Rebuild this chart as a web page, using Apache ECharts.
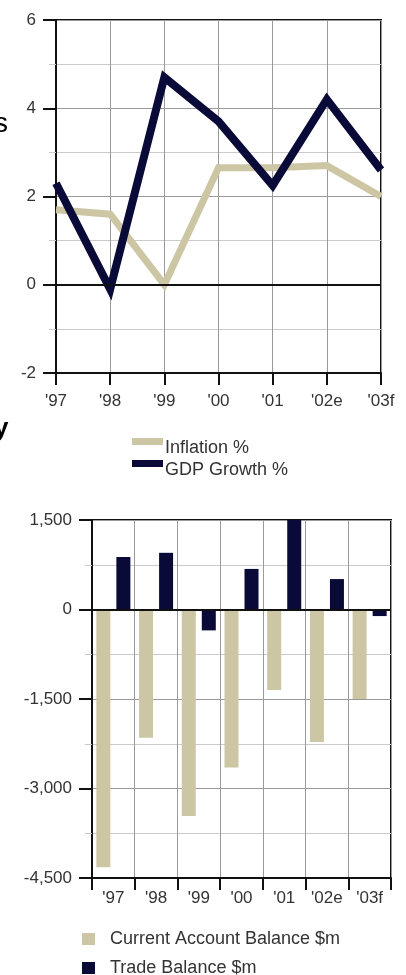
<!DOCTYPE html>
<html>
<head>
<meta charset="utf-8">
<script src="https://cdn.jsdelivr.net/npm/echarts@6/dist/echarts.min.js"></script>
<style>
  html, body { margin: 0; padding: 0; background: #fff; }
  #chart { width: 406px; height: 975px; }
</style>
</head>
<body>
<div id="chart"></div>
<script>
// Years shown on both charts
var years = ["'97", "'98", "'99", "'00", "'01", "'02e", "'03f"];

// Upper chart: annual rates (%)
var inflation = [1.7, 1.6, 0.0, 2.65, 2.65, 2.7, 2.0];
var gdpGrowth = [2.3, -0.1, 4.7, 3.7, 2.25, 4.2, 2.6];
var rateTicks = [-2, 0, 2, 4, 6];

// Lower chart: balances ($m)
var currentAccount = [-4320, -2150, -3460, -2650, -1350, -2220, -1500];
var tradeBalance = [880, 950, -350, 680, 1500, 510, -110];
var balanceTicks = [-4500, -3000, -1500, 0, 1500];

var FONT = '"Liberation Sans", Arial, sans-serif';
var BEIGE = '#cdc6a4';
var NAVY = '#0a0a38';
var GRID_MAJOR = '#9a9a9a';
var GRID_MINOR = '#cacaca';

// Line-legend swatch: a bar sitting in the upper part of the item box
var LINE_SWATCH = 'path://M0,0h31v7h-31z M0,19.9h0.01v0.1h-0.01z';

function withCommas(v) {
  var s = String(Math.abs(v)).replace(/\B(?=(\d{3})+(?!\d))/g, ',');
  return v < 0 ? '-' + s : s;
}

function valueAxis(gridIndex, ticks, formatter) {
  return {
    type: 'value',
    gridIndex: gridIndex,
    min: ticks[0],
    max: ticks[ticks.length - 1],
    interval: ticks[1] - ticks[0],
    axisLine: { show: true, onZero: false, lineStyle: { color: '#111', width: 2 } },
    axisTick: { show: true, length: 13, lineStyle: { color: '#111', width: 2 } },
    minorTick: { show: true, splitNumber: 2, length: 7, lineStyle: { color: GRID_MINOR, width: 1 } },
    minorSplitLine: { show: true, lineStyle: { color: GRID_MINOR, width: 1 } },
    splitLine: { show: true, lineStyle: { color: GRID_MAJOR, width: 1 } },
    axisLabel: {
      margin: 20,
      color: '#333',
      fontFamily: FONT,
      fontSize: 17,
      formatter: formatter
    }
  };
}

function categoryAxis(gridIndex, boundaryGap, labelMargin) {
  return {
    type: 'category',
    gridIndex: gridIndex,
    data: years,
    boundaryGap: boundaryGap,
    axisLine: { show: true, onZero: false, lineStyle: { color: '#111', width: 2 } },
    axisTick: { show: true, length: 12, interval: 0, alignWithLabel: false, lineStyle: { color: '#111', width: 2 } },
    splitLine: { show: true, interval: 0, lineStyle: { color: GRID_MAJOR, width: 1 } },
    axisLabel: { margin: labelMargin, color: '#333', fontFamily: FONT, fontSize: 17, interval: 0 }
  };
}

// Black reference line drawn at zero
function zeroLine() {
  return {
    silent: true,
    symbol: ['none', 'none'],
    label: { show: false },
    lineStyle: { color: '#111', width: 2, type: 'solid' },
    data: [{ yAxis: 0 }]
  };
}

function legendRow(name, left, top, icon, w, h, padding) {
  return {
    orient: 'horizontal',
    left: left,
    top: top,
    padding: 0,
    itemWidth: w,
    itemHeight: h,
    icon: icon,
    selectedMode: false,
    data: [name],
    textStyle: { color: '#333', fontFamily: FONT, fontSize: 18, padding: padding }
  };
}

var chart = echarts.init(document.getElementById('chart'), null, { renderer: 'canvas' });

chart.setOption({
  animation: false,
  backgroundColor: '#fff',
  grid: [
    { left: 56, top: 20, width: 325, height: 353, show: true, borderColor: '#111', borderWidth: 2, containLabel: false },
    { left: 92, top: 520, width: 299, height: 358, show: true, borderColor: '#111', borderWidth: 2, containLabel: false }
  ],
  xAxis: [
    categoryAxis(0, false, 20),
    categoryAxis(1, true, 12)
  ],
  yAxis: [
    valueAxis(0, rateTicks, function (v) { return String(v); }),
    valueAxis(1, balanceTicks, withCommas)
  ],
  legend: [
    legendRow('Inflation %', 132, 438, LINE_SWATCH, 31, 20, [0, 0, 0, -3]),
    legendRow('GDP Growth %', 132, 460, LINE_SWATCH, 31, 20, [0, 0, 0, -3]),
    legendRow('Current Account Balance $m', 82, 930, 'rect', 13, 12, [0, 0, 0, 10]),
    legendRow('Trade Balance $m', 82, 959, 'rect', 13, 12, [0, 0, 0, 10])
  ],
  graphic: [
    { type: 'text', left: -6, top: 110, style: { text: 's', font: '28px ' + FONT, fill: '#000' } },
    { type: 'text', left: -6, top: 416, style: { text: 'y', font: 'bold 26px ' + FONT, fill: '#000' } }
  ],
  series: [
    {
      name: 'Inflation %',
      type: 'line',
      xAxisIndex: 0,
      yAxisIndex: 0,
      data: inflation,
      showSymbol: false,
      symbol: 'none',
      itemStyle: { color: BEIGE },
      lineStyle: { color: BEIGE, width: 7, join: 'miter' },
      z: 3
    },
    {
      name: 'GDP Growth %',
      type: 'line',
      xAxisIndex: 0,
      yAxisIndex: 0,
      data: gdpGrowth,
      showSymbol: false,
      symbol: 'none',
      itemStyle: { color: NAVY },
      lineStyle: { color: NAVY, width: 8, join: 'miter' },
      markLine: zeroLine(),
      z: 4
    },
    {
      name: 'Current Account Balance $m',
      type: 'bar',
      xAxisIndex: 1,
      yAxisIndex: 1,
      data: currentAccount,
      barWidth: 14,
      barGap: '43%',
      itemStyle: { color: BEIGE },
      markLine: zeroLine()
    },
    {
      name: 'Trade Balance $m',
      type: 'bar',
      xAxisIndex: 1,
      yAxisIndex: 1,
      data: tradeBalance,
      barWidth: 14,
      barGap: '43%',
      itemStyle: { color: NAVY }
    }
  ]
});
</script>
</body>
</html>
